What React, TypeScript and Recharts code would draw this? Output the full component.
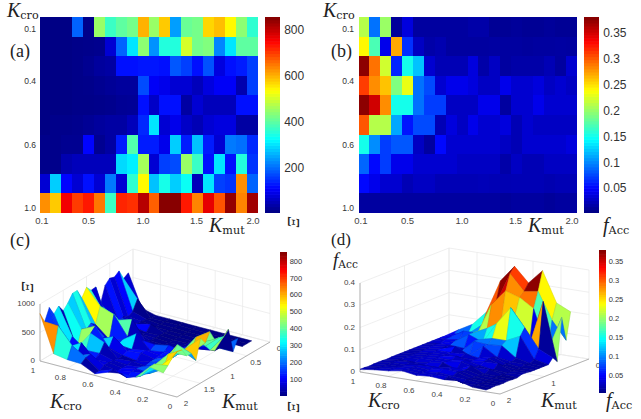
import React from "react";
import { ScatterChart, Scatter, XAxis, YAxis } from "recharts";

// ---------- data ----------
const kMut = [0.1,0.2,0.3,0.4,0.5,0.6,0.7,0.8,0.9,1.0,1.1,1.2,1.3,1.4,1.5,1.6,1.7,1.8,1.9,2.0];
const kCro = [0.1,0.2,0.3,0.4,0.5,0.6,0.7,0.8,0.9,1.0];

const xi01 = [5,5,5,190,10,450,370,400,420,600,450,580,240,410,420,570,590,540,440,360];
const xi02 = [5,5,5,8,10,12,70,190,300,440,230,350,350,500,420,430,220,300,400,400];
const xi03 = [5,5,5,8,15,25,30,120,120,125,125,120,180,160,120,175,80,120,130,160];
const xi04 = [5,5,5,8,10,15,20,25,25,170,100,90,70,70,50,80,100,100,40,160];
const xi05 = [5,5,5,8,8,10,12,18,20,120,60,120,120,30,70,50,50,50,120,120];
const xi06 = [5,10,10,12,18,25,30,30,50,140,300,70,90,60,45,70,80,80,30,30];
const xi07 = [10,10,15,15,110,15,30,130,390,130,130,90,280,130,270,130,70,210,200,140];
const xi08 = [10,10,40,50,50,50,50,290,310,460,70,160,170,450,370,120,300,120,350,150];
const xi09 = [70,280,110,70,120,70,210,70,360,540,270,340,280,330,50,300,160,150,630,190];
const xi10 = [630,580,760,700,730,650,370,720,710,810,670,850,850,730,640,770,680,840,640,830];
const xiRows = [xi01,xi02,xi03,xi04,xi05,xi06,xi07,xi08,xi09,xi10];

const acc01 = [.21,.09,.2,.01,.035,.012,.012,.012,.012,.012,.015,.015,.008,.008,.01,.008,.008,.01,.008,.008];
const acc02 = [.24,.17,.04,.27,.065,.025,.015,.018,.012,.012,.012,.012,.013,.012,.012,.011,.012,.012,.013,.012];
const acc03 = [.375,.29,.22,.06,.15,.12,.03,.02,.02,.02,.035,.015,.025,.012,.015,.015,.015,.02,.012,.03];
const acc04 = [.31,.28,.26,.19,.23,.09,.075,.03,.04,.04,.035,.025,.025,.04,.03,.03,.035,.025,.03,.025];
const acc05 = [.375,.35,.28,.15,.15,.09,.07,.07,.025,.025,.025,.04,.04,.012,.03,.03,.04,.03,.03,.03];
const acc06 = [.3,.21,.21,.11,.055,.075,.075,.02,.035,.025,.04,.03,.03,.035,.02,.03,.025,.025,.025,.025];
const acc07 = [.15,.1,.07,.08,.08,.025,.012,.05,.03,.03,.03,.03,.03,.025,.02,.03,.03,.03,.03,.035];
const acc08 = [.085,.05,.07,.04,.04,.03,.03,.03,.03,.025,.025,.025,.025,.015,.025,.02,.02,.025,.025,.025];
const acc09 = [.05,.04,.03,.03,.02,.025,.025,.02,.02,.02,.02,.021,.02,.019,.02,.02,.02,.018,.02,.02];
const acc10 = [.012,.012,.012,.012,.012,.012,.012,.012,.012,.012,.012,.012,.012,.01,.012,.012,.012,.01,.012,.012];
const accRows = [acc01,acc02,acc03,acc04,acc05,acc06,acc07,acc08,acc09,acc10];

const heatXTicks = [0.1,0.5,1.0,1.5,2.0];
const heatYTicks = [0.1,0.4,0.6,1.0];
const xiBarTicks = [200,400,600,800];
const accBarTicks = [0.05,0.1,0.15,0.2,0.25,0.3,0.35];
const xiBarTicks3d = [100,200,300,400,500,600,700,800];
const cro3dTicks = [0,0.2,0.4,0.6,0.8,1];
const mut3dTicksC = [0,0.5,1,1.5,2];
const mut3dTicksD = [0,1,2];
const xiZTicks = [0,500,1000];
const accZTicks = [0,0.1,0.2,0.3,0.4];

// ---------- colour map ----------
function jet(t: number) {
  t = Math.max(0, Math.min(1, t));
  const r = t < 0.375 ? 0 : t < 0.625 ? (t-0.375)/0.25 : t < 0.875 ? 1 : 1-(t-0.875)/0.25;
  const g = t < 0.125 ? 0 : t < 0.375 ? (t-0.125)/0.25 : t < 0.625 ? 1 : t < 0.875 ? 1-(t-0.625)/0.25 : 0;
  const b = t < 0.125 ? 0.5+t/0.25 : t < 0.375 ? 1 : t < 0.625 ? 1-(t-0.375)/0.25 : 0;
  return `rgb(${Math.round(r*255)},${Math.round(g*255)},${Math.round(b*255)})`;
}

const SANS = "'Liberation Sans', Arial, sans-serif";
const SERIF = "'Liberation Serif', serif";

// ---------- heat maps ----------
const heatTickX: Record<string, number> = { "0.1": -3, "0.5": 0, "1": 0, "1.5": -1, "2": 1 };
const heatTickY: Record<string, number> = { "0.1": 2, "0.4": -5, "0.6": 20, "1": 5 };

function HeatMap({ left, plotLeft, rows, max, tickRight }: { left: number; plotLeft: number; rows: number[][]; max: number; tickRight: number }) {
  const plotW = 218, plotH = 196, W = 300, H = 235;
  const data = rows.flatMap((r, i) => r.map((v, j) => ({ kmut: kMut[j], kcro: kCro[i], v })));
  const cw = plotW / 20, ch = plotH / 10;
  return (
    <div style={{ position: "absolute", left, top: 0 }}>
      <ScatterChart width={W} height={H} margin={{ left: 0, top: 17, right: W - plotLeft - plotW, bottom: 0 }}>
        <XAxis type="number" dataKey="kmut" domain={[0.05, 2.05]} ticks={heatXTicks} height={H - 17 - plotH}
          axisLine={false} tickLine={false} interval={0}
          tick={(p: any) => (
            <text x={p.x + (heatTickX[String(p.payload.value)] ?? 0)} y={224} textAnchor="middle" fontFamily={SANS} fontSize={9.5} fill="#444">
              {p.payload.value.toFixed(1)}
            </text>
          )} />
        <YAxis type="number" dataKey="kcro" domain={[0.05, 1.05]} reversed ticks={heatYTicks} width={plotLeft}
          axisLine={false} tickLine={false} interval={0}
          tick={(p: any) => (
            <text x={tickRight} y={p.y + 3 + (heatTickY[String(p.payload.value)] ?? 0)} textAnchor="end" fontFamily={SANS} fontSize={8.5} fill="#333">
              {p.payload.value.toFixed(1)}
            </text>
          )} />
        <Scatter data={data} isAnimationActive={false}
          shape={(p: any) => {
            const c = jet(p.payload.v / max);
            return <rect x={p.cx - cw / 2} y={p.cy - ch / 2} width={cw} height={ch} fill={c} shapeRendering="crispEdges" />;
          }} />
      </ScatterChart>
    </div>
  );
}

const BAR_STEPS = 64;
function ColorBar({ left, top, width, height, domain, ticks, fontSize, labelWidth }:
  { left: number; top: number; width: number; height: number; domain: [number, number]; ticks: number[]; fontSize: number; labelWidth: number }) {
  const levels: { a: number; b: number; t: number }[] = [];
  for (let i = 0; i < BAR_STEPS; i++) {
    const t = (i + 0.5) / BAR_STEPS;
    levels.push({ a: 0.5, b: domain[0] + (domain[1] - domain[0]) * t, t });
  }
  const h = height / BAR_STEPS;
  return (
    <div style={{ position: "absolute", left, top }}>
      <ScatterChart width={width + labelWidth} height={height} margin={{ left: 0, top: 0, right: 0, bottom: 0 }}>
        <XAxis type="number" dataKey="a" domain={[0, 1]} hide />
        <YAxis type="number" dataKey="b" orientation="right" domain={domain} ticks={ticks} width={labelWidth} allowDataOverflow interval={0}
          axisLine={false} tickLine={false}
          tick={(p: any) => (
            <text x={width + fontSize * 0.35} y={p.y + fontSize * 0.36} fontFamily={SANS} fontSize={fontSize} fill="#333">{String(p.payload.value)}</text>
          )} />
        <Scatter data={levels} isAnimationActive={false}
          shape={(p: any) => <rect x={p.cx - width / 2} y={p.cy - h / 2 - 0.3} width={width} height={h + 0.6} fill={jet(p.payload.t)} />} />
      </ScatterChart>
    </div>
  );
}

// ---------- 3D projection ----------
type Proj = { o: [number, number]; u: [number, number]; v: [number, number]; zs: number; zMax: number };
const projC: Proj = { o: [177, 397], u: [-137, -36], v: [93, -55], zs: 57 / 1000, zMax: 1000 };
const projD: Proj = { o: [500, 394], u: [-140, -22], v: [89, -35], zs: 89 / 0.4, zMax: 0.4 };
function project(p: Proj, mut: number, cro: number, z: number): [number, number] {
  const m = (2 - mut) / 2;
  return [p.o[0] + p.u[0] * cro + p.v[0] * m, p.o[1] + p.u[1] * cro + p.v[1] * m - z * p.zs];
}

type Poly = { x: number; y: number; pts: [number, number][]; fill: string; stroke: string; sw: number; edge?: boolean };
function poly(pts: [number, number][], fill: string, stroke: string, sw: number, edge?: boolean): Poly {
  return { x: pts[0][0], y: pts[0][1], pts, fill, stroke, sw, edge };
}
function surfaceQuads(p: Proj, rows: number[][], max: number): Poly[] {
  const q: (Poly & { d: number })[] = [];
  for (let i = 0; i < rows.length - 1; i++)
    for (let j = 0; j < rows[i].length - 1; j++) {
      const pts: [number, number][] = [
        project(p, kMut[j], kCro[i], rows[i][j]),
        project(p, kMut[j + 1], kCro[i], rows[i][j + 1]),
        project(p, kMut[j + 1], kCro[i + 1], rows[i + 1][j + 1]),
        project(p, kMut[j], kCro[i + 1], rows[i + 1][j]),
      ];
      const d = project(p, (kMut[j] + kMut[j + 1]) / 2, (kCro[i] + kCro[i + 1]) / 2, 0)[1];
      const c = jet(rows[i][j] / max);
      q.push({ ...poly(pts, c, c, 0.5, true), d });
    }
  return q.sort((a, b) => a.d - b.d);
}
function boxGrid(p: Proj, mutTicks: number[], zTicks: number[]): Poly[] {
  const g = "#e8e8e8", out: Poly[] = [];
  cro3dTicks.forEach(c => out.push(poly([project(p, 2, c, 0), project(p, 0, c, 0), project(p, 0, c, p.zMax)], "none", g, 0.7)));
  mutTicks.forEach(m => out.push(poly([project(p, m, 0, 0), project(p, m, 1, 0), project(p, m, 1, p.zMax)], "none", g, 0.7)));
  zTicks.forEach(z => out.push(poly([project(p, 2, 1, z), project(p, 0, 1, z), project(p, 0, 0, z)], "none", g, 0.7)));
  const a = "#9a9a9a";
  out.push(poly([project(p, 2, 1, 0), project(p, 2, 0, 0), project(p, 0, 0, 0)], "none", a, 0.7));
  out.push(poly([project(p, 2, 1, 0), project(p, 2, 1, p.zMax)], "none", a, 0.7));
  return out;
}
type Lab = { x: number; y: number; t: string; anchor: string; size: number };
function tickLabels(p: Proj, mutTicks: number[], zTicks: number[], size: number): Lab[] {
  const out: Lab[] = [];
  cro3dTicks.forEach(c => { const q = project(p, 2, c, 0); out.push({ x: q[0] - 7, y: q[1] + 12, t: String(c), anchor: "middle", size }); });
  mutTicks.forEach(m => { const q = project(p, m, 0, 0); out.push({ x: q[0] + 9, y: q[1] + 9, t: String(m), anchor: "middle", size }); });
  zTicks.forEach(z => { const q = project(p, 2, 1, z); out.push({ x: q[0] - 5, y: q[1] + 2, t: String(z), anchor: "end", size }); });
  return out;
}
const polyShape = (s: any) => {
  const d: Poly = s.payload;
  const path = d.pts.map((q, i) => `${i ? "L" : "M"}${s.cx + q[0] - d.x} ${s.cy + q[1] - d.y}`).join(" ") + (d.fill === "none" ? "" : " Z");
  return (
    <g>
      <path d={path} fill={d.fill} stroke={d.stroke} strokeWidth={d.sw} strokeLinejoin="round" />
      {d.edge ? <path d={path} fill="none" stroke="#000" strokeWidth={0.25} strokeOpacity={0.3} strokeLinejoin="round" /> : null}
    </g>
  );
};
const labShape = (s: any) => {
  const d: Lab = s.payload;
  return <text x={s.cx} y={s.cy} textAnchor={d.anchor as any} fontFamily={SANS} fontSize={d.size} fill="#444">{d.t}</text>;
};

function Surfaces() {
  const grid = [...boxGrid(projC, mut3dTicksC, xiZTicks), ...boxGrid(projD, mut3dTicksD, accZTicks)];
  const quads = [...surfaceQuads(projC, xiRows, 857), ...surfaceQuads(projD, accRows, 0.38)];
  const labs = [...tickLabels(projC, mut3dTicksC, xiZTicks, 8), ...tickLabels(projD, mut3dTicksD, accZTicks, 8)];
  return (
    <div style={{ position: "absolute", left: 0, top: 0 }}>
      <ScatterChart width={641} height={419} margin={{ left: 0, top: 0, right: 0, bottom: 0 }}>
        <XAxis type="number" dataKey="x" domain={[0, 641]} hide allowDataOverflow />
        <YAxis type="number" dataKey="y" domain={[0, 419]} reversed hide allowDataOverflow width={0} />
        <Scatter data={grid} isAnimationActive={false} shape={polyShape} />
        <Scatter data={quads} isAnimationActive={false} shape={polyShape} />
        <Scatter data={labs} isAnimationActive={false} shape={labShape} />
      </ScatterChart>
    </div>
  );
}

// ---------- text ----------
function T({ x, base, children, size = 16, style }: any) {
  return (
    <div style={{ position: "absolute", left: x, top: base - size, height: size * 1.1, lineHeight: `${size * 1.25}px`, fontFamily: SERIF, fontSize: size, color: "#222", whiteSpace: "nowrap", ...style }}>
      {children}
    </div>
  );
}
function Sym({ x, base, main, sub, size = 20 }: { x: number; base: number; main: string; sub: string; size?: number }) {
  return (
    <T x={x} base={base} size={size}>
      <i>{main}</i>
      <span style={{ fontFamily: "'DejaVu Serif', serif", fontSize: size * 0.56, position: "relative", top: 2 }}>{sub}</span>
    </T>
  );
}
function Xi({ x, y, size = 17 }: { x: number; y: number; size?: number }) {
  return (
    <div style={{ position: "absolute", left: x - 10, top: y - 10, width: 20, height: 20, lineHeight: "20px", textAlign: "center", transform: "rotate(90deg)", fontFamily: SERIF, fontStyle: "italic", fontSize: size, color: "#222" }}>Ξ</div>
  );
}

export default function App() {
  return (
    <div style={{ position: "absolute", left: 0, top: 0, width: 641, height: 419, background: "#fff", overflow: "hidden" }}>
      <Surfaces />
      <HeatMap left={0} plotLeft={39.5} rows={xiRows} max={857} tickRight={36} />
      <HeatMap left={319} plotLeft={39.5} rows={accRows} max={0.38} tickRight={35} />
      <ColorBar left={265} top={17} width={15} height={196} domain={[4, 857]} ticks={xiBarTicks} fontSize={12} labelWidth={30} />
      <ColorBar left={584} top={17} width={15} height={196} domain={[0.002, 0.38]} ticks={accBarTicks} fontSize={12} labelWidth={32} />
      <ColorBar left={280} top={252} width={7} height={144} domain={[0, 853]} ticks={xiBarTicks3d} fontSize={7.5} labelWidth={20} />
      <ColorBar left={599} top={250} width={7} height={143} domain={[0.002, 0.38]} ticks={accBarTicks} fontSize={7.5} labelWidth={22} />

      <T x={10} base={58} size={18}>(a)</T>
      <T x={331} base={58} size={18}>(b)</T>
      <T x={10} base={247} size={18}>(c)</T>
      <T x={331} base={245.5} size={17}>(d)</T>

      <Sym x={7} base={18} main="K" sub="cro" />
      <Sym x={323} base={18} main="K" sub="cro" />
      <Sym x={209} base={233} main="K" sub="mut" />
      <Sym x={528} base={233} main="K" sub="mut" />
      <Sym x={50} base={409} main="K" sub="cro" />
      <Sym x={222} base={409} main="K" sub="mut" />
      <Sym x={368} base={408} main="K" sub="cro" />
      <Sym x={541} base={408} main="K" sub="mut" />
      <Sym x={603} base={233} main="f" sub="Acc" />
      <Sym x={333} base={266.5} size={19} main="f" sub="Acc" />
      <Sym x={606} base={408} main="f" sub="Acc" />
      <Xi x={293} y={222} />
      <Xi x={27} y={287} />
      <Xi x={293} y={407} />
    </div>
  );
}
